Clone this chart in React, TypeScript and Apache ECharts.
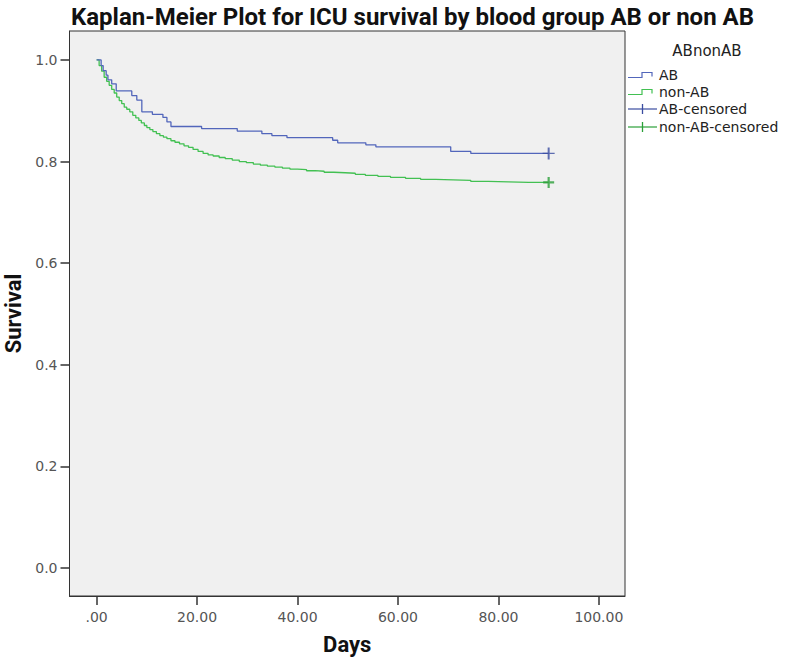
import React, { useEffect, useRef } from "react";
import * as echarts from "echarts";

const xTicks = [0, 20, 40, 60, 80, 100];
const yTicks = [0, 0.2, 0.4, 0.6, 0.8, 1.0];

// Kaplan-Meier step points: [day, survival after event]
const abSteps: [number, number][] = [
  [0, 1.0], [0.9, 0.989], [1.3, 0.979], [1.9, 0.97], [2.25, 0.961], [3.0, 0.953],
  [3.9, 0.939], [7.0, 0.93], [8.0, 0.921], [9.0, 0.898], [11.1, 0.893], [13.2, 0.887],
  [14.0, 0.878], [14.8, 0.869], [20.9, 0.865], [28.0, 0.86], [32.9, 0.855], [34.9, 0.851],
  [37.9, 0.847], [47.0, 0.842], [48.0, 0.837], [53.6, 0.833], [55.6, 0.829], [70.5, 0.82],
  [74.5, 0.816], [90, 0.816],
];

const nonAbSteps: [number, number][] = [
  [0, 1.0], [0.5, 0.989], [1.0, 0.978], [1.5, 0.966], [2.0, 0.958], [2.5, 0.95],
  [3.0, 0.942], [3.5, 0.935], [4.0, 0.927], [4.5, 0.92], [5.0, 0.914], [5.5, 0.907],
  [6.0, 0.903], [6.6, 0.898], [7.2, 0.891], [7.8, 0.886], [8.4, 0.881], [8.9, 0.876],
  [9.5, 0.871], [10.0, 0.867], [10.6, 0.863], [11.2, 0.859], [11.9, 0.855], [12.6, 0.851],
  [13.3, 0.848], [14.0, 0.845], [14.8, 0.841], [15.6, 0.838], [16.5, 0.835], [17.4, 0.831],
  [18.3, 0.828], [19.2, 0.824], [20.2, 0.82], [21.2, 0.816], [22.2, 0.813], [23.2, 0.811],
  [24.4, 0.808], [25.6, 0.806], [27.0, 0.803], [28.4, 0.8], [29.8, 0.798], [31.2, 0.795],
  [32.6, 0.793], [34.0, 0.791], [35.5, 0.789], [37.0, 0.787], [38.5, 0.785], [40.0, 0.784],
  [41.8, 0.782], [43.5, 0.781], [45.3, 0.779], [47.2, 0.778], [49.5, 0.777], [51.5, 0.775],
  [53.5, 0.773], [56.0, 0.771], [58.5, 0.769], [61.5, 0.767], [64.5, 0.765], [67.5, 0.764],
  [71.0, 0.763], [74.5, 0.761], [78.0, 0.76], [82.0, 0.759], [86.0, 0.759], [90, 0.759],
];

const abCensored: [number, number][] = [[90, 0.816]];
const nonAbCensored: [number, number][] = [[90, 0.759]];

const legendTitle = "ABnonAB";
const legendItems = ["AB", "non-AB", "AB-censored", "non-AB-censored"];

const BLUE_LINE = "#5266bb";
const BLUE_MARK = "#3a4ca0";
const GREEN_LINE = "#42c052";
const GREEN_MARK = "#2a9f38";

export default function App() {
  const ref = useRef<HTMLDivElement>(null);

  useEffect(() => {
    if (!ref.current) return;
    const chart = echarts.init(ref.current, undefined, { renderer: "svg" });

    const font = "'DejaVu Sans', sans-serif";
    const boldFont = "Roboto, 'DejaVu Sans', sans-serif";

    const itemY = [75, 92, 109, 127];
    const colors = [BLUE_LINE, GREEN_LINE, BLUE_MARK, GREEN_MARK];
    const legendGraphics: any[] = [
      {
        type: "text",
        x: 707,
        y: 51,
        style: {
          text: legendTitle,
          font: `15px ${font}`,
          fill: "#222",
          align: "center",
          verticalAlign: "middle",
        },
      },
    ];
    legendItems.forEach((name, i) => {
      const y = itemY[i];
      if (i < 2) {
        legendGraphics.push({
          type: "polyline",
          shape: {
            points: [
              [628, y + 2.5],
              [642, y + 2.5],
              [642, y - 2.5],
              [652, y - 2.5],
              [652, y + 1.5],
            ],
          },
          style: { stroke: colors[i], lineWidth: 1.2, fill: "none" },
        });
      } else {
        legendGraphics.push({
          type: "line",
          shape: { x1: 628, y1: y, x2: 657, y2: y },
          style: { stroke: colors[i], lineWidth: 1.2 },
        });
        legendGraphics.push({
          type: "line",
          shape: { x1: 642.5, y1: y - 5, x2: 642.5, y2: y + 5 },
          style: { stroke: colors[i], lineWidth: 1.3 },
        });
      }
      legendGraphics.push({
        type: "text",
        x: 659,
        y: y,
        style: {
          text: name,
          font: `14px ${font}`,
          fill: "#222",
          align: "left",
          verticalAlign: "middle",
        },
      });
    });

    chart.setOption({
      animation: false,
      backgroundColor: "#ffffff",
      title: {
        text: "Kaplan-Meier Plot for ICU survival by blood group AB or non AB",
        left: 66,
        top: 0,
        textStyle: {
          fontFamily: boldFont,
          fontWeight: "bold",
          fontSize: 24,
          color: "#111",
        },
      },
      grid: {
        left: 69.5,
        right: 164,
        top: 31,
        bottom: 65,
        outerBoundsMode: "none",
        containLabel: false,
        show: true,
        backgroundColor: "#f0f0f0",
        borderColor: "#333",
        borderWidth: 1,
      },
      xAxis: {
        type: "value",
        min: -5.4,
        max: 105.2,
        name: "Days",
        nameLocation: "middle",
        nameGap: 37,
        nameTextStyle: {
          fontFamily: boldFont,
          fontWeight: "bold",
          fontSize: 22,
          color: "#111",
        },
        axisLine: { show: true, onZero: false, lineStyle: { color: "#333", width: 1 } },
        axisTick: {
          show: true,
          length: 9,
          customValues: xTicks,
          lineStyle: { color: "#333", width: 1.5 },
        },
        axisLabel: {
          customValues: xTicks,
          margin: 14,
          fontFamily: font,
          fontSize: 14,
          color: "#555",
          formatter: (v: number) => (v === 0 ? ".00" : v.toFixed(2)),
        },
        splitLine: { show: false },
      },
      yAxis: {
        type: "value",
        min: -0.055,
        max: 1.057,
        name: "Survival",
        nameLocation: "middle",
        nameRotate: 90,
        nameGap: 45,
        nameTextStyle: {
          fontFamily: boldFont,
          fontWeight: "bold",
          fontSize: 22,
          color: "#111",
        },
        axisLine: { show: true, onZero: false, lineStyle: { color: "#333", width: 1 } },
        axisTick: {
          show: true,
          length: 9,
          customValues: yTicks,
          lineStyle: { color: "#333", width: 1.5 },
        },
        axisLabel: {
          customValues: yTicks,
          margin: 12,
          fontFamily: font,
          fontSize: 14,
          color: "#555",
          formatter: (v: number) => v.toFixed(1),
        },
        splitLine: { show: false },
      },
      series: [
        {
          name: "AB",
          type: "line",
          step: "end",
          data: abSteps,
          showSymbol: false,
          lineStyle: { color: BLUE_LINE, width: 1.3 },
          itemStyle: { color: BLUE_LINE },
          z: 3,
        },
        {
          name: "non-AB",
          type: "line",
          step: "end",
          data: nonAbSteps,
          showSymbol: false,
          lineStyle: { color: GREEN_LINE, width: 1.3 },
          itemStyle: { color: GREEN_LINE },
          z: 2,
        },
        {
          name: "AB-censored",
          type: "scatter",
          data: abCensored,
          symbol: "path://M0,5.4H12V6.6H0Z M5,0H7V12H5Z",
          symbolSize: [12, 12],
          itemStyle: { color: BLUE_MARK },
          z: 4,
        },
        {
          name: "non-AB-censored",
          type: "scatter",
          data: nonAbCensored,
          symbol: "path://M0,4H10V6H0Z M4,0H6V10H4Z",
          symbolSize: [11, 11],
          itemStyle: { color: GREEN_MARK },
          z: 4,
        },
      ],
      graphic: legendGraphics,
    });

    return () => chart.dispose();
  }, []);

  return (
    <div
      ref={ref}
      style={{ position: "fixed", left: 0, top: 0, width: 789, height: 661 }}
    />
  );
}
